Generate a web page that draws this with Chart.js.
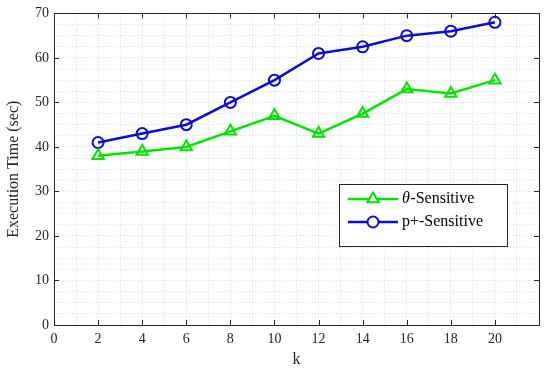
<!DOCTYPE html>
<html>
<head>
<meta charset="utf-8">
<script src="https://cdn.jsdelivr.net/npm/chart.js@4"></script>
<style>
  html, body { margin: 0; padding: 0; background: #fff; }
  #wrap { width: 550px; height: 374px; }
</style>
</head>
<body>
<div id="wrap"><canvas id="grafico" width="550" height="374"></canvas></div>
<script>
// valores
const kValores = [2, 4, 6, 8, 10, 12, 14, 16, 18, 20];
const tempoTheta = [38, 39, 40, 43.5, 47, 43, 47.5, 53, 52, 55];
const tempoPMais = [41, 43, 45, 50, 55, 61, 62.5, 65, 66, 68];
const ticksX = [0, 2, 4, 6, 8, 10, 12, 14, 16, 18, 20];
const ticksY = [0, 10, 20, 30, 40, 50, 60, 70];
const rotulos = ["θ-Sensitive", "p+-Sensitive"];

const VERDE = "#00e400";
const AZUL = "#0c0cd2";
const FONTE = "'Liberation Serif', 'Times New Roman', serif";

// caixa preta, marcas de tick para dentro e legenda dentro da área
const moldura = {
    id: "moldura",
    afterDraw(chart) {
        const ctx = chart.ctx;
        const a = chart.chartArea;
        const sx = chart.scales.x;
        const sy = chart.scales.y;
        const tam = 5;

        ctx.save();
        ctx.strokeStyle = "#262626";
        ctx.lineWidth = 1;
        ctx.beginPath();
        ticksX.forEach(v => {
            const px = Math.round(sx.getPixelForValue(v)) + 0.5;
            ctx.moveTo(px, a.bottom); ctx.lineTo(px, a.bottom - tam);
            ctx.moveTo(px, a.top); ctx.lineTo(px, a.top + tam);
        });
        ticksY.forEach(v => {
            const py = Math.round(sy.getPixelForValue(v)) + 0.5;
            ctx.moveTo(a.left, py); ctx.lineTo(a.left + tam, py);
            ctx.moveTo(a.right, py); ctx.lineTo(a.right - tam, py);
        });
        ctx.stroke();
        ctx.strokeRect(Math.round(a.left) + 0.5, Math.round(a.top) + 0.5,
            Math.round(a.right - a.left), Math.round(a.bottom - a.top));

        // legenda
        const lx = 339, ly = 184, lw = 168, lh = 62;
        ctx.fillStyle = "#fff";
        ctx.fillRect(lx, ly, lw, lh);
        ctx.strokeRect(lx + 0.5, ly + 0.5, lw, lh);

        chart.data.datasets.forEach((ds, i) => {
            const cy = ly + 15 + i * 23;
            ctx.strokeStyle = ds.borderColor;
            ctx.lineWidth = ds.borderWidth;
            ctx.beginPath();
            ctx.moveTo(lx + 9, cy); ctx.lineTo(lx + 59, cy);
            ctx.stroke();
            ctx.fillStyle = "#fff";
            ctx.lineWidth = ds.pointBorderWidth;
            Chart.helpers.drawPoint(ctx, {
                pointStyle: ds.pointStyle,
                radius: ds.pointRadius,
                borderWidth: ds.pointBorderWidth
            }, lx + 34, cy);

            ctx.fillStyle = "#000";
            ctx.textBaseline = "middle";
            ctx.textAlign = "left";
            let tx = lx + 63;
            const texto = rotulos[i];
            if (texto.startsWith("θ")) {
                ctx.font = "italic 16px " + FONTE;
                ctx.fillText("θ", tx, cy);
                tx += ctx.measureText("θ").width + 0.5;
                ctx.font = "16px " + FONTE;
                ctx.fillText(texto.slice(1), tx, cy);
            } else {
                ctx.font = "16px " + FONTE;
                ctx.fillText(texto, tx, cy);
            }
        });
        ctx.restore();
    }
};

const gradeCor = "rgba(0, 0, 0, 0.14)";

new Chart(document.getElementById("grafico").getContext("2d"), {
    type: "line",
    data: {
        datasets: [
            {
                label: rotulos[0],
                data: kValores.map((k, i) => ({ x: k, y: tempoTheta[i] })),
                borderColor: VERDE,
                backgroundColor: "transparent",
                borderWidth: 2.5,
                pointStyle: "triangle",
                pointRadius: 6.5,
                pointBorderWidth: 2,
                pointBackgroundColor: "transparent",
                pointBorderColor: VERDE,
                tension: 0
            },
            {
                label: rotulos[1],
                data: kValores.map((k, i) => ({ x: k, y: tempoPMais[i] })),
                borderColor: AZUL,
                backgroundColor: "transparent",
                borderWidth: 2.5,
                pointStyle: "circle",
                pointRadius: 5.5,
                pointBorderWidth: 2,
                pointBackgroundColor: "transparent",
                pointBorderColor: AZUL,
                tension: 0
            }
        ]
    },
    options: {
        responsive: false,
        animation: false,
        devicePixelRatio: 1,
        layout: { padding: { top: 13, right: 11, left: 0, bottom: 0 } },
        plugins: {
            legend: { display: false },
            tooltip: { enabled: false }
        },
        scales: {
            x: {
                type: "linear",
                min: 0,
                max: 22,
                afterFit: s => { s.height = 49; },
                ticks: {
                    stepSize: 1,
                    autoSkip: false,
                    maxRotation: 0,
                    padding: 6,
                    color: "#262626",
                    font: { family: FONTE, size: 14 },
                    callback: v => ticksX.includes(v) ? String(v) : ""
                },
                grid: { color: gradeCor, drawTicks: false, lineWidth: 1 },
                border: { display: false, dash: [1, 2] },
                title: {
                    display: true,
                    text: "k",
                    color: "#262626",
                    font: { family: FONTE, size: 16 },
                    padding: { top: 0, bottom: 5 }
                }
            },
            y: {
                min: 0,
                max: 70,
                afterFit: s => { s.width = 54; },
                ticks: {
                    stepSize: 2.5,
                    autoSkip: false,
                    maxTicksLimit: 100,
                    padding: 5,
                    color: "#262626",
                    font: { family: FONTE, size: 14 },
                    callback: v => ticksY.includes(v) ? String(v) : ""
                },
                grid: { color: gradeCor, drawTicks: false, lineWidth: 1 },
                border: { display: false, dash: [1, 2] },
                title: {
                    display: true,
                    text: "Execution Time (sec)",
                    color: "#262626",
                    font: { family: FONTE, size: 16 },
                    padding: { top: 4, bottom: 0 }
                }
            }
        }
    },
    plugins: [moldura]
});
</script>
</body>
</html>
